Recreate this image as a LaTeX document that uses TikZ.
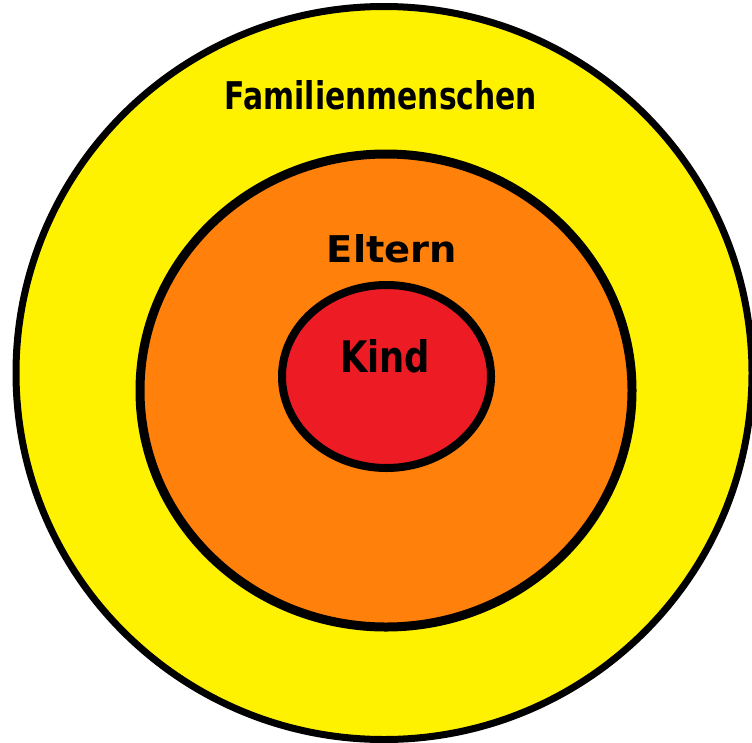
\documentclass[tikz,border=0pt]{standalone}
\usepackage{fontspec}
\setmainfont{DejaVu Sans}
\usetikzlibrary{shapes.geometric}
\definecolor{ringyellow}{RGB}{255,242,0}
\definecolor{ringorange}{RGB}{255,128,10}
\definecolor{ringred}{RGB}{237,28,36}
\begin{document}
\begin{tikzpicture}[x=1pt,y=-1pt,
  ring/.style={ellipse, draw=black, inner sep=0pt, outer sep=0pt},
  lbl/.style={inner sep=0pt, text=black, font=\bfseries}]
\useasboundingbox (0,0) rectangle (752,742);
\fill[white] (0,0) rectangle (752,742);
\clip (0,0) rectangle (752,742);
\node[ring, fill=ringyellow, line width=7pt, minimum width=736pt, minimum height=733pt] (outer) at (384,373) {};
\node[ring, fill=ringorange, line width=9pt, minimum width=492pt, minimum height=473pt] (middle) at (386,390.5) {};
\node[ring, fill=ringred, line width=8pt, minimum width=209pt, minimum height=183pt] (inner) at (386.5,376.5) {};
\node[lbl] (famlbl) at (381,95) {\resizebox{312pt}{29pt}{Familienmenschen}};
\node[lbl] (eltlbl) at (392,249) {\resizebox{130pt}{28pt}{Eltern}};
\node[lbl] (kindlbl) at (385,356) {\resizebox{90pt}{33pt}{Kind}};
\end{tikzpicture}
\end{document}
